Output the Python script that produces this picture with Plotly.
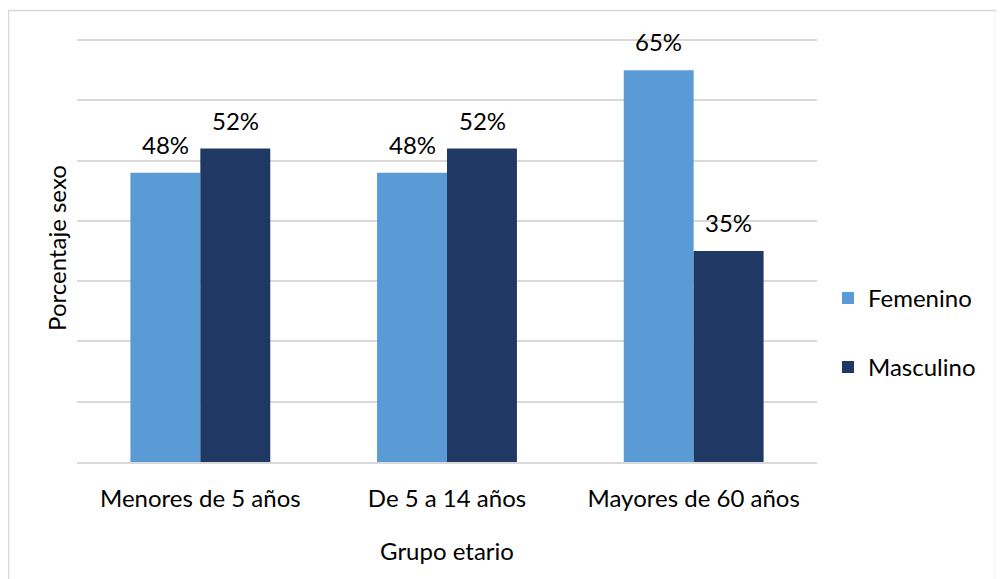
import plotly.graph_objects as go

GRUPOS = ["Menores de 5 años", "De 5 a 14 años", "Mayores de 60 años"]
FEMENINO = [48, 48, 65]
MASCULINO = [52, 52, 35]

FONT = "Lato"
FS = 24
YMAX = 71
# the page puts the figure 8px in from the top-left corner
W, H = 990, 571
L, R, T, B = 69, 181, 25.5, 116.5

fig = go.Figure()
fig.add_trace(go.Bar(
    x=GRUPOS, y=FEMENINO, name="Femenino", marker_color="#5B9BD5",
    marker_line_width=0, legendgroup="f",
))
fig.add_trace(go.Bar(
    x=GRUPOS, y=MASCULINO, name="Masculino", marker_color="#203864",
    marker_line_width=0, legendgroup="m",
))

# value labels sit a little higher above the bars than plotly's outside text
for vals, shift in ((FEMENINO, -35), (MASCULINO, 35)):
    for g, v in zip(GRUPOS, vals):
        fig.add_annotation(
            x=g, y=v, text=f"{v}%", showarrow=False,
            xshift=shift, yshift=12, yanchor="bottom",
            font=dict(size=FS, color="#000000"),
        )

pw = W - L - R
ph = H - T - B
# light grey frame around the whole chart (screen px)
left, bottom = 8 + L, 8 + T + ph
fig.add_shape(
    type="rect", xref="paper", yref="paper",
    x0=(8.5 - left) / pw, x1=(996.5 - left) / pw,
    y0=(bottom - 620) / ph, y1=(bottom - 10) / ph,
    line=dict(color="#D9D9D9", width=1.5), layer="below",
)

fig.update_layout(
    width=W, height=H,
    margin=dict(l=L, r=R, t=T, b=B, pad=0),
    paper_bgcolor="white", plot_bgcolor="white",
    font=dict(family=FONT, size=FS, color="#000000"),
    barmode="group", bargap=0.433, bargroupgap=0,
    showlegend=True,
    legend=dict(
        x=(828 - left) / pw, y=(bottom - 333) / ph,
        xanchor="left", yanchor="middle",
        font=dict(size=FS), traceorder="grouped", tracegroupgap=35,
        itemwidth=30,
    ),
)
fig.update_xaxes(
    showline=True, linecolor="#D9D9D9", linewidth=1.5,
    ticks="", tickfont=dict(size=FS), ticklabelstandoff=14,
    title=dict(text="Grupo etario", font=dict(size=FS), standoff=33),
)
fig.update_yaxes(
    range=[0, YMAX], dtick=10, showticklabels=False,
    showgrid=True, gridcolor="#D9D9D9", gridwidth=1.5, zeroline=False,
    title=dict(text="Porcentaje sexo", font=dict(size=FS), standoff=2),
)

fig.write_html("out.html")
